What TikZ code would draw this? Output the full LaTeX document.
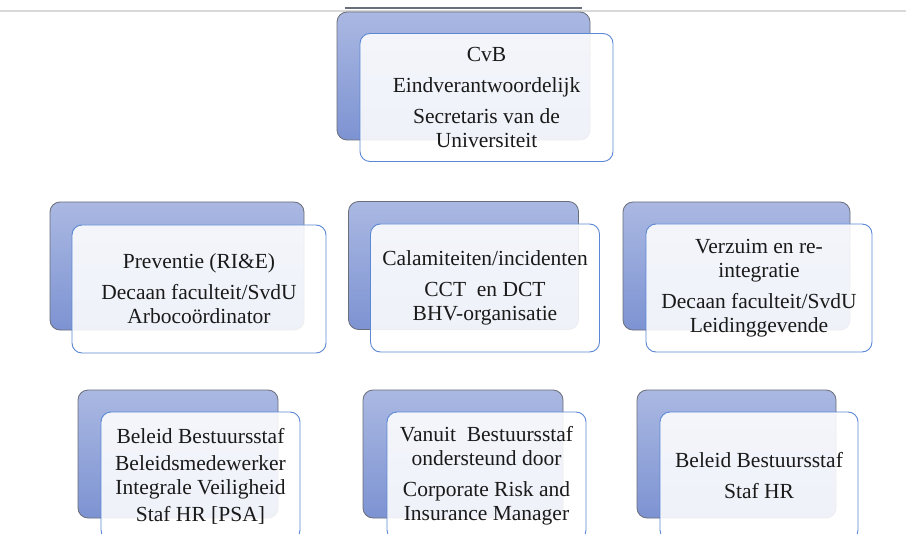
\documentclass[tikz,border=0pt]{standalone}
\usepackage{fontspec}
\setmainfont{Liberation Serif}
\definecolor{backtop}{HTML}{AAB8E2}
\definecolor{backbot}{HTML}{7D93D2}
\definecolor{backedge}{HTML}{6A6E78}
\definecolor{frontedge}{HTML}{5B87D4}
\definecolor{rulegrey}{HTML}{D9D9D9}
\definecolor{txt}{HTML}{1A1A1A}
\tikzset{
  backbox/.style={rectangle, rounded corners=10pt, top color=backtop, bottom color=backbot,
    draw=backedge, line width=0.8pt, minimum width=#1, minimum height=128pt, inner sep=0pt},
  frontbox/.style={rectangle, rounded corners=10pt, fill=white, fill opacity=0.88, text opacity=1,
    draw=frontedge, line width=0.9pt, minimum width=#1, minimum height=128pt, inner sep=2pt,
    align=center, text=txt, font=\fontsize{21.5}{24}\selectfont},
}
\newcommand{\pgap}{\\[7pt]}
\begin{document}
\begin{tikzpicture}[x=1pt,y=-1pt]
\clip (0,0) rectangle (909,534);
\fill[white] (0,0) rectangle (909,534);
\coordinate (rl) at (0,11);
\coordinate (rr) at (906,11);
\draw[rulegrey, line width=1.2pt] (rl) -- (rr);
% top
\node[backbox=253pt] (b0) at (463.5,76) {};
\draw[backedge, line width=1.4pt] ([xshift=8pt,yshift=3.5pt]b0.north west) -- ([xshift=-8pt,yshift=3.5pt]b0.north east);
\node[frontbox=253pt] (f0) at (486.5,97.5) {CvB\pgap Eindverantwoordelijk\pgap Secretaris van de\\ Universiteit};
% middle row
\node[backbox=254pt] (b1) at (177,266) {};
\node[frontbox=254pt] (f1) at (199,289) {Preventie (RI\&E)\pgap Decaan faculteit/SvdU\\ Arbocoördinator};
\node[backbox=230pt] (b2) at (463.5,265.5) {};
\node[frontbox=229pt] (f2) at (485,288) {Calamiteiten/incidenten\pgap CCT\ \ en DCT\\ BHV-organisatie};
\node[backbox=227pt] (b3) at (736.5,266) {};
\node[frontbox=226pt] (f3) at (759,288) {Verzuim en re-\\ integratie\pgap Decaan faculteit/SvdU\\ Leidinggevende};
% bottom row
\node[backbox=200pt] (b4) at (178,454) {};
\node[frontbox=199pt] (f4) at (200.5,476) {Beleid Bestuursstaf\\[3pt] Beleidsmedewerker\\ Integrale Veiligheid\\[3pt] Staf HR [PSA]};
\node[backbox=200pt] (b5) at (463,454) {};
\node[frontbox=199pt] (f5) at (486.5,476) {Vanuit\ \ Bestuursstaf\\ ondersteund door\pgap Corporate Risk and\\ Insurance Manager};
\node[backbox=199pt] (b6) at (736.5,454) {};
\node[frontbox=198pt] (f6) at (759,476) {Beleid Bestuursstaf\pgap Staf HR};
\end{tikzpicture}
\end{document}
